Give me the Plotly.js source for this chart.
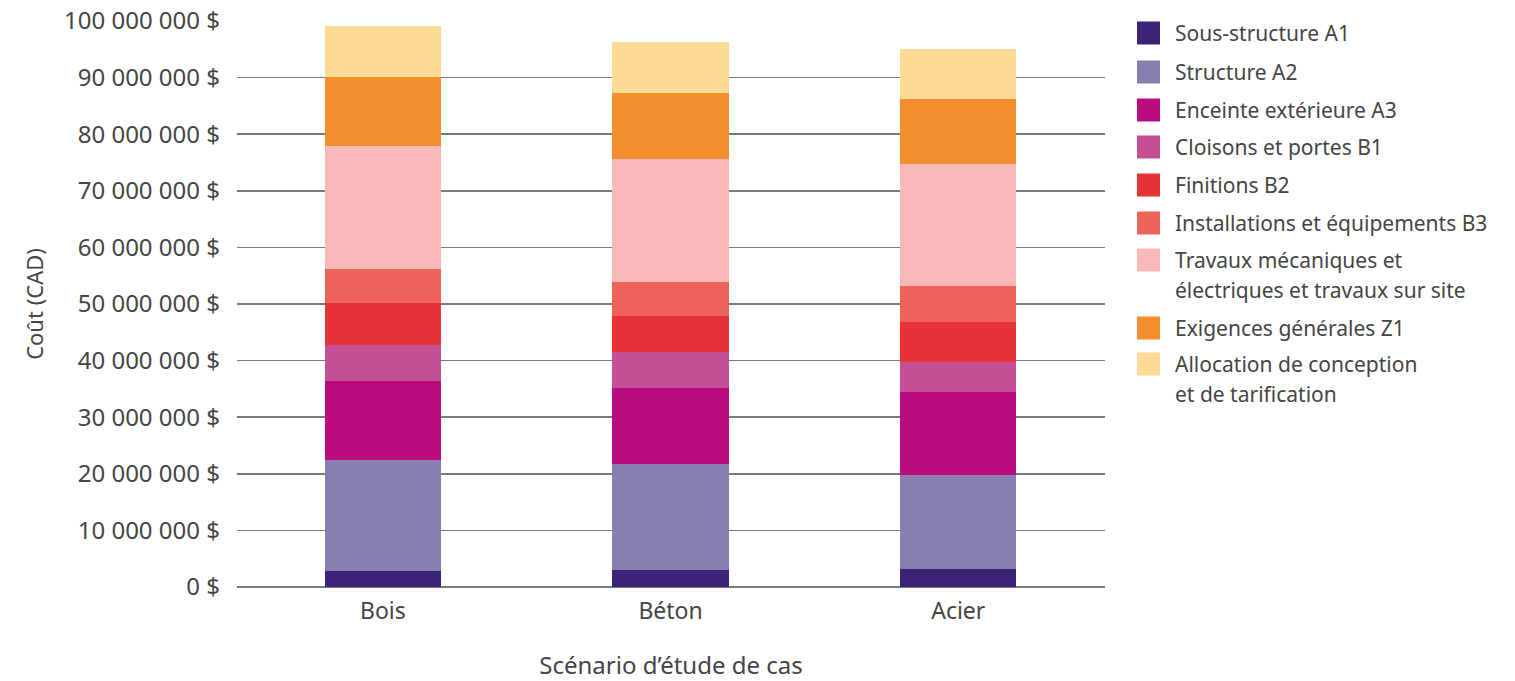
<!DOCTYPE html>
<html>
<head>
<meta charset="utf-8">
<script src="https://cdn.plot.ly/plotly-3.0.1.min.js"></script>
<style>
  html, body { margin: 0; padding: 0; background: #fff; }
  #chart { width: 1515px; height: 681px; }
</style>
</head>
<body>
<div id="chart"></div>
<script>
// Scenarios on the x axis
const scenarios = ['Bois', 'Béton', 'Acier'];

// Cost components (CAD), stacked bottom to top
const sousStructureA1   = [2.8e6, 3.0e6, 3.2e6];
const structureA2       = [19.6e6, 18.7e6, 16.6e6];
const enceinteA3        = [14.0e6, 13.5e6, 14.7e6];
const cloisonsB1        = [6.4e6, 6.3e6, 5.3e6];
const finitionsB2       = [7.4e6, 6.4e6, 7.1e6];
const installationsB3   = [6.0e6, 6.0e6, 6.2e6];
const travauxMecaniques = [21.7e6, 21.7e6, 21.7e6];
const exigencesZ1       = [12.2e6, 11.7e6, 11.5e6];
const allocation        = [9.0e6, 9.0e6, 8.8e6];

// Legend labels (one entry per line of text)
const labelLines = [
  ['Sous-structure A1'],
  ['Structure A2'],
  ['Enceinte extérieure A3'],
  ['Cloisons et portes B1'],
  ['Finitions B2'],
  ['Installations et équipements B3'],
  ['Travaux mécaniques et', 'électriques et travaux sur site'],
  ['Exigences générales Z1'],
  ['Allocation de conception', 'et de tarification']
];

const seriesValues = [
  sousStructureA1, structureA2, enceinteA3, cloisonsB1, finitionsB2,
  installationsB3, travauxMecaniques, exigencesZ1, allocation
];

const colors = [
  '#3b2377', '#887eae', '#b80c7f', '#c44f94', '#e53337',
  '#ec6459', '#f8b8b8', '#f28d30', '#fddb95'
];

const FONT = '"Noto Sans", "Open Sans", sans-serif';
const TEXT = '#454545';

const traces = seriesValues.map((vals, i) => ({
  type: 'bar',
  name: labelLines[i].join(' '),
  x: scenarios,
  y: vals,
  marker: { color: colors[i], line: { width: 0 } },
  showlegend: false,
  hovertemplate: '%{x}<br>%{y:,.0f} $<extra>' + labelLines[i].join(' ') + '</extra>'
}));

// Plot area geometry in pixels, used to place the custom legend
const W = 1515, H = 681;
const M = { l: 237, r: 410, t: 21, b: 94 };
const plotW = W - M.l - M.r, plotH = H - M.t - M.b;
const px2x = p => (p - M.l) / plotW;
const py2y = p => 1 - (p - M.t) / plotH;

// Legend rows: first-line centre (px) for each entry
const legendRowY = [33, 72, 110, 147, 185, 223, 260, 328, 364];
const lineGap = 30;
const swatch = 23;
const swatchX = 1137;
const textX = 1173;

const shapes = [];
const annotations = [];
labelLines.forEach((lines, i) => {
  const cy = legendRowY[i];
  shapes.push({
    type: 'rect', xref: 'paper', yref: 'paper',
    x0: px2x(swatchX), x1: px2x(swatchX + swatch),
    y0: py2y(cy + swatch / 2), y1: py2y(cy - swatch / 2),
    fillcolor: colors[i], line: { width: 0 }
  });
  lines.forEach((txt, k) => {
    annotations.push({
      xref: 'paper', yref: 'paper',
      x: px2x(textX), y: py2y(cy + k * lineGap),
      xanchor: 'left', yanchor: 'middle',
      text: txt, showarrow: false,
      font: { family: FONT, size: 21, color: TEXT }
    });
  });
});

const layout = {
  width: W, height: H,
  margin: M,
  barmode: 'stack',
  bargap: 0.596,
  separators: ', ',
  paper_bgcolor: '#ffffff',
  plot_bgcolor: '#ffffff',
  font: { family: FONT, size: 24, color: TEXT },
  showlegend: false,
  xaxis: {
    type: 'category',
    range: [-0.507, 2.51],
    showgrid: false,
    showline: false,
    zeroline: false,
    ticks: '',
    ticklabelstandoff: 8,
    tickfont: { family: FONT, size: 23, color: TEXT },
    title: { text: 'Scénario d’étude de cas', standoff: 34,
             font: { family: FONT, size: 24, color: TEXT } }
  },
  yaxis: {
    range: [0, 100e6],
    dtick: 10e6,
    tickformat: ',d',
    ticksuffix: ' $',
    ticks: '',
    ticklabelstandoff: 16,
    showgrid: true,
    gridcolor: '#7a7a7a',
    gridwidth: 1.6,
    zeroline: true,
    zerolinecolor: '#7a7a7a',
    zerolinewidth: 1.6,
    showline: false,
    tickfont: { family: FONT, size: 24, color: TEXT },
    title: { text: 'Coût (CAD)', standoff: 14,
             font: { family: FONT, size: 22, color: TEXT } }
  },
  shapes: shapes,
  annotations: annotations
};

Plotly.newPlot('chart', traces, layout, { displayModeBar: false, staticPlot: true });
</script>
</body>
</html>
